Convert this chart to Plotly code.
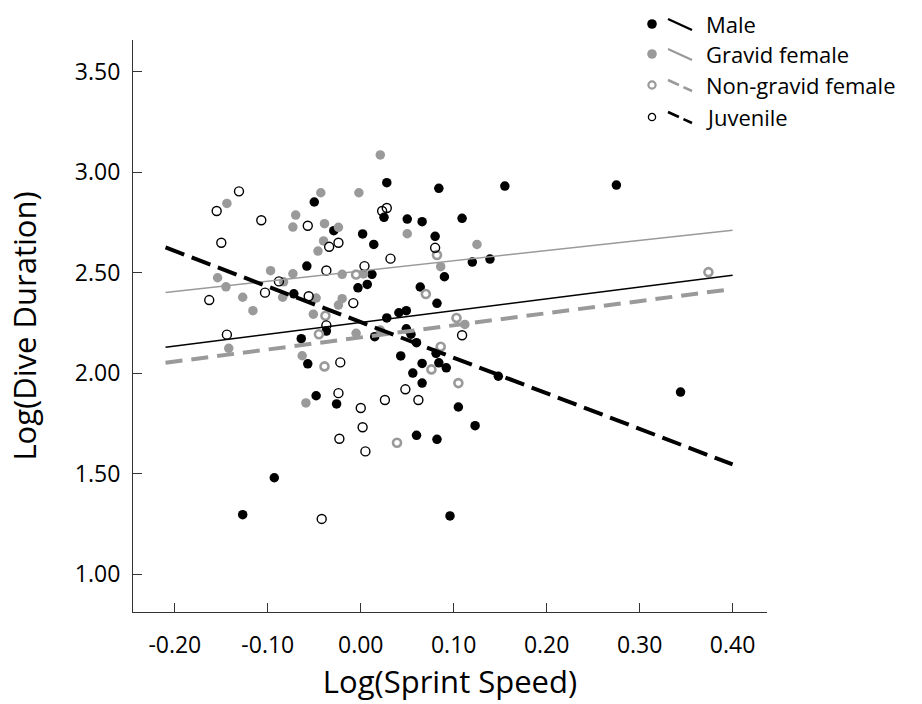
import plotly.graph_objects as go

# ---------------- data ----------------
male_x = [-0.050, 0.028, 0.084, 0.155, 0.275, 0.025, 0.050, 0.066, 0.109, -0.029,
          0.002, 0.080, 0.014, 0.120, 0.139, -0.058, 0.012, 0.090, -0.003, 0.007,
          0.064, 0.082, -0.072, 0.028, 0.041, 0.049, -0.037, -0.064, 0.015, 0.049,
          0.054, 0.060, 0.081, 0.043, -0.057, 0.066, 0.084, 0.092, 0.056, 0.148,
          0.066, -0.048, -0.026, 0.105, 0.123, 0.060, 0.082, 0.344, -0.093, -0.127, 0.096]
male_y = [2.851, 2.947, 2.919, 2.930, 2.935, 2.775, 2.766, 2.753, 2.770, 2.708,
          2.692, 2.680, 2.640, 2.552, 2.567, 2.532, 2.491, 2.479, 2.424, 2.441,
          2.428, 2.347, 2.394, 2.274, 2.300, 2.310, 2.209, 2.171, 2.181, 2.220,
          2.193, 2.151, 2.098, 2.085, 2.046, 2.048, 2.051, 2.026, 2.000, 1.984,
          1.950, 1.887, 1.846, 1.831, 1.738, 1.690, 1.670, 1.905, 1.479, 1.295, 1.289]

gravid_x = [0.021, -0.043, -0.002, -0.144, -0.070, -0.073, -0.039, -0.024, 0.050, -0.040,
            -0.046, 0.125, 0.086, -0.097, -0.073, -0.154, -0.083, -0.145, -0.127, -0.084,
            -0.048, -0.020, 0.003, -0.020, -0.024, -0.116, -0.051, -0.005, 0.112, -0.142,
            -0.063, -0.059, 0.021]
gravid_y = [3.085, 2.897, 2.897, 2.844, 2.786, 2.726, 2.743, 2.725, 2.693, 2.657,
            2.607, 2.640, 2.529, 2.509, 2.494, 2.474, 2.454, 2.429, 2.377, 2.377,
            2.373, 2.491, 2.493, 2.370, 2.338, 2.310, 2.293, 2.198, 2.242, 2.123,
            2.086, 1.851, 2.214]

nongravid_x = [0.082, -0.005, 0.070, 0.103, -0.038, -0.045, -0.039, 0.086, 0.076, 0.105, 0.039, 0.374]
nongravid_y = [2.587, 2.490, 2.393, 2.274, 2.285, 2.193, 2.033, 2.131, 2.018, 1.950, 1.653, 2.502]

juvenile_x = [-0.131, -0.155, -0.107, -0.057, -0.150, -0.034, -0.024, 0.028, 0.023, -0.037,
              0.080, 0.032, 0.004, -0.088, -0.103, -0.056, -0.163, -0.008, -0.037, -0.144,
              0.109, -0.022, -0.024, 0.048, 0.026, 0.062, 0.000, 0.002, -0.023, 0.005, -0.042]
juvenile_y = [2.904, 2.806, 2.760, 2.733, 2.648, 2.628, 2.648, 2.821, 2.806, 2.510,
              2.623, 2.569, 2.532, 2.456, 2.400, 2.382, 2.363, 2.348, 2.237, 2.191,
              2.188, 2.053, 1.900, 1.919, 1.866, 1.866, 1.826, 1.730, 1.673, 1.610, 1.274]

# fitted regression lines (end points)
fit_x = [-0.21, 0.40]
male_fit = [2.128, 2.486]
gravid_fit = [2.401, 2.711]
nongravid_fit = [2.051, 2.418]
juvenile_fit = [2.625, 1.545]

x_ticks = [-0.20, -0.10, 0.00, 0.10, 0.20, 0.30, 0.40]
x_ticklabels = ["-0.20", "-0.10", "0.00", "0.10", "0.20", "0.30", "0.40"]
y_ticks = [1.00, 1.50, 2.00, 2.50, 3.00, 3.50]
y_ticklabels = ["1.00", "1.50", "2.00", "2.50", "3.00", "3.50"]

legend_names = ["Male", "Gravid female", "Non-gravid female", "Juvenile"]

# ---------------- styling ----------------
GRAY = "#9a9a9a"
FONT = "Open Sans"
W, H = 922, 704
L, R, T, B = 133, 767, 40, 612

fig = go.Figure()

fig.add_trace(go.Scatter(x=male_x, y=male_y, mode="markers", name="Male",
                         marker=dict(size=9.5, color="black", line=dict(width=0))))
fig.add_trace(go.Scatter(x=gravid_x, y=gravid_y, mode="markers", name="Gravid female",
                         marker=dict(size=9.5, color=GRAY, line=dict(width=0))))
fig.add_trace(go.Scatter(x=nongravid_x, y=nongravid_y, mode="markers", name="Non-gravid female",
                         marker=dict(size=8, symbol="circle-open", color=GRAY, line=dict(width=2.6, color=GRAY))))
fig.add_trace(go.Scatter(x=juvenile_x, y=juvenile_y, mode="markers", name="Juvenile",
                         marker=dict(size=9, symbol="circle-open", color="black", line=dict(width=1.4, color="black"))))

fig.add_trace(go.Scatter(x=fit_x, y=male_fit, mode="lines", line=dict(color="black", width=1.5)))
fig.add_trace(go.Scatter(x=fit_x, y=gravid_fit, mode="lines", line=dict(color=GRAY, width=1.5)))
fig.add_trace(go.Scatter(x=fit_x, y=nongravid_fit, mode="lines",
                         line=dict(color=GRAY, width=4, dash="17px,9px")))
fig.add_trace(go.Scatter(x=fit_x, y=juvenile_fit, mode="lines",
                         line=dict(color="black", width=4, dash="20px,8px")))

# ---------------- manual legend ----------------
def pxx(x):
    return (x - L) / (R - L)

def pyy(y):
    return (B - y) / (B - T)

rows = [24, 54, 85, 117]
legend_marker = [("black", "black", 0), (GRAY, GRAY, 0), ("white", GRAY, 2.2), ("white", "black", 1.3)]
legend_line = [("black", 2.4, "solid"), (GRAY, 2.2, "solid"), (GRAY, 2.6, "12px,5px"), ("black", 2.6, "12px,5px")]
shapes = []
annotations = []
for i, name in enumerate(legend_names):
    yc = rows[i]
    fillc, linec, lw = legend_marker[i]
    rad = 4.8 if lw == 0 else 3.6
    shapes.append(dict(type="circle", xref="paper", yref="paper",
                       x0=pxx(652 - rad), x1=pxx(652 + rad), y0=pyy(yc + rad), y1=pyy(yc - rad),
                       fillcolor=fillc, line=dict(color=linec, width=lw)))
    c, w, d = legend_line[i]
    shapes.append(dict(type="line", xref="paper", yref="paper",
                       x0=pxx(668), x1=pxx(692), y0=pyy(yc - 5), y1=pyy(yc + 6),
                       line=dict(color=c, width=w, dash=d)))
    annotations.append(dict(text=name, xref="paper", yref="paper", x=pxx(704), y=pyy(yc),
                            xanchor="left", yanchor="middle", showarrow=False,
                            font=dict(family=FONT, size=22, color="black")))

fig.update_layout(
    width=W, height=H,
    margin=dict(l=L, r=W - R, t=T, b=H - B, autoexpand=False),
    paper_bgcolor="white", plot_bgcolor="white",
    showlegend=False,
    font=dict(family=FONT, color="black"),
    shapes=shapes, annotations=annotations,
    xaxis=dict(range=[-0.245, 0.437], tickvals=x_ticks, ticktext=x_ticklabels,
               showgrid=False, zeroline=False, showline=True, linecolor="#333", linewidth=1.2,
               ticks="inside", ticklen=9, tickcolor="#333", tickwidth=1.2,
               tickfont=dict(size=23, family=FONT), ticklabelstandoff=12,
               title=dict(text="Log(Sprint Speed)", font=dict(size=31, family=FONT), standoff=8)),
    yaxis=dict(range=[0.811, 3.657], tickvals=y_ticks, ticktext=y_ticklabels,
               showgrid=False, zeroline=False, showline=True, linecolor="#333", linewidth=1.2,
               ticks="inside", ticklen=9, tickcolor="#333", tickwidth=1.2,
               tickfont=dict(size=23, family=FONT), ticklabelstandoff=7,
               title=dict(text="Log(Dive Duration)", font=dict(size=31, family=FONT), standoff=28)),
)

fig.write_html("out.html")
